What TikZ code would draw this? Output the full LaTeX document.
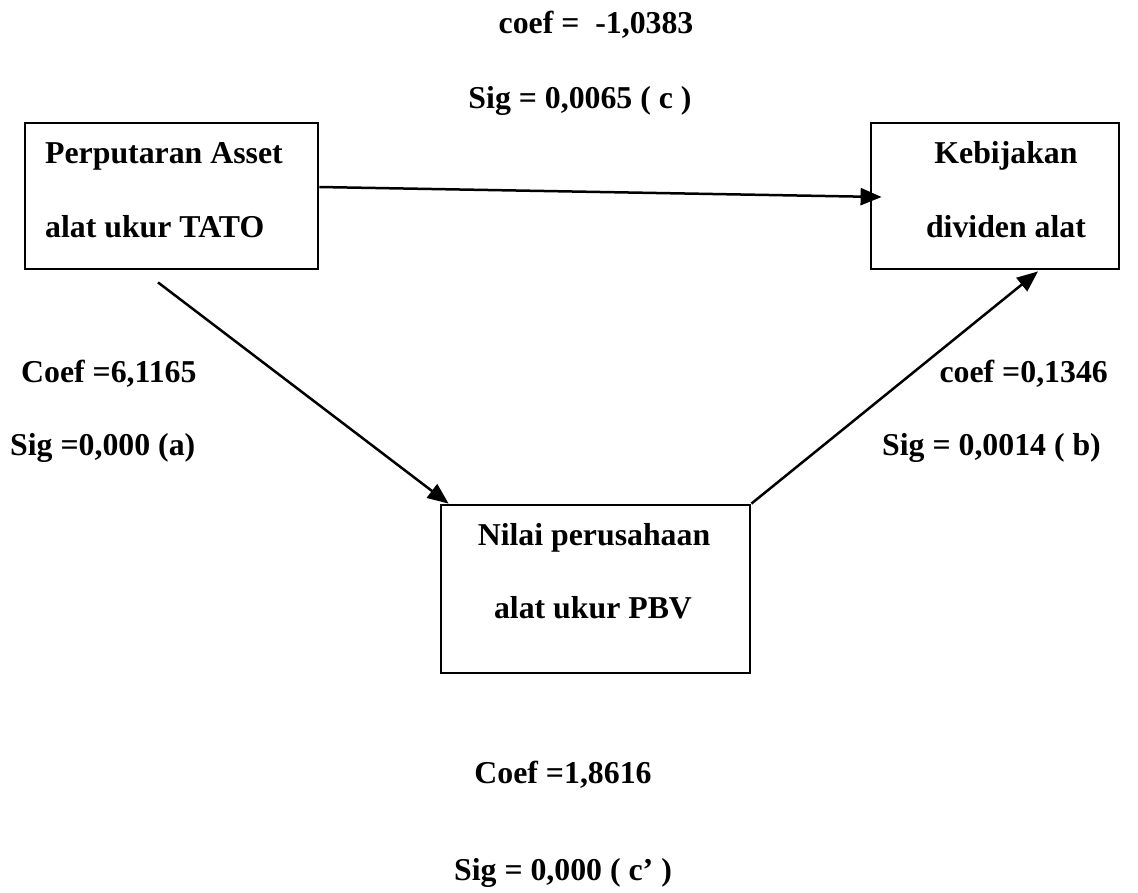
\documentclass[tikz,border=0pt]{standalone}
\usepackage{fontspec}
\setmainfont{Liberation Serif}
\usetikzlibrary{arrows.meta,calc}
\begin{document}
\begin{tikzpicture}[x=1pt,y=-1pt,
  box/.style={draw,line width=2.8pt,inner sep=0pt},
  lbl/.style={font=\fontsize{31.8}{36}\selectfont\bfseries,inner sep=0pt},
  conn/.style={line width=2.5pt,-{Triangle[length=21pt,width=17pt]}}]
\useasboundingbox (0,0) rectangle (1138,892);
% boxes
\node[box,minimum width=293pt,minimum height=146pt] (tato) at (171.5,196) {};
\node[box,minimum width=248pt,minimum height=146pt] (div) at (995,196) {};
\node[box,minimum width=309pt,minimum height=168pt] (pbv) at (595.5,589) {};
% box texts
\node[lbl,anchor=base west] (t1) at (45,163) {Perputaran Asset};
\node[lbl,anchor=base west] (t2) at (45,237) {alat ukur TATO};
\node[lbl,anchor=base] (d1) at (1006,163) {Kebijakan};
\node[lbl,anchor=base] (d2) at (1006,237) {dividen alat};
\node[lbl,anchor=base] (p1) at (594,545) {Nilai perusahaan};
\node[lbl,anchor=base] (p2) at (593,618) {alat ukur PBV};
% labels
\node[lbl,anchor=base] (cc1) at (596,33) {coef = \ -1,0383};
\node[lbl,anchor=base] (cc2) at (580,108) {Sig = 0,0065 ( c )};
\node[lbl,anchor=base west] (a1) at (21,382) {Coef =6,1165};
\node[lbl,anchor=base west] (a2) at (10,455) {Sig =0,000 (a)};
\node[lbl,anchor=base east] (b1) at (1108,382) {coef =0,1346};
\node[lbl,anchor=base east] (b2) at (1101,455) {Sig = 0,0014 ( b)};
\node[lbl,anchor=base] (c1) at (563,783) {Coef =1,8616};
\node[lbl,anchor=base] (c2) at (563,880) {Sig = 0,000 ( c’ )};
% connectors
\draw[conn] ($(tato.east)+(0,-9)$) -- ($(div.west)+(12,1)$);
\draw[conn] ($(tato.south)+(-13.5,12)$) -- ($(pbv.north west)+(9,0)$);
\draw[conn] (pbv.north east) -- ($(div.south)+(43,1)$);
\end{tikzpicture}
\end{document}
